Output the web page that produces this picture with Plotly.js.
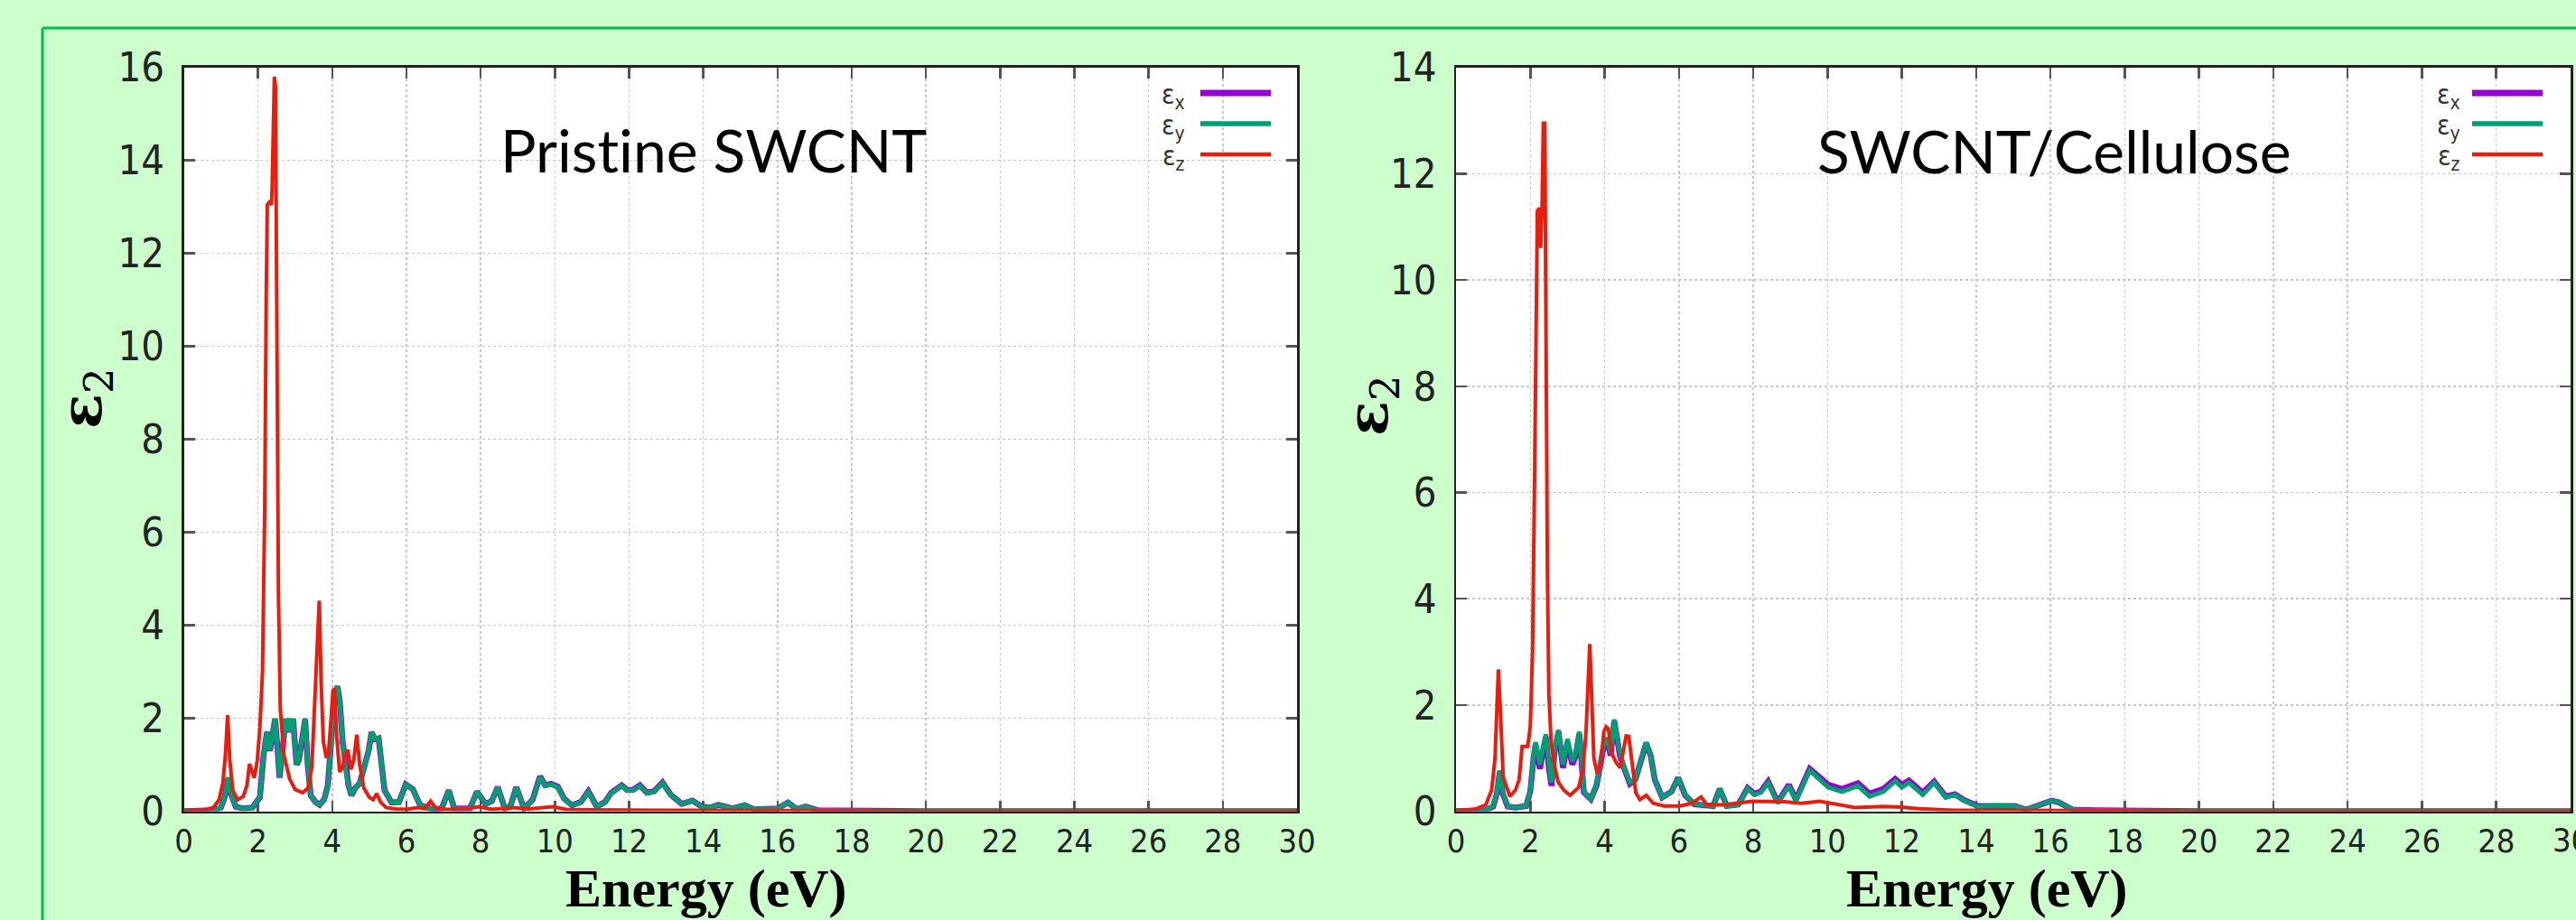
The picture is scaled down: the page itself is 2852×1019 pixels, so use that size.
<!DOCTYPE html>
<html>
<head>
<meta charset="utf-8">
<script src="https://cdn.plot.ly/plotly-3.0.1.min.js"></script>
<style>html,body{margin:0;padding:0;background:#ccffcc;}#chart{width:2852px;height:1019px;}</style>
</head>
<body>
<div id="chart"></div>
<script>
// ---------------- DATA ----------------
const panelTitles = ["Prist\u200Cine SWCNT", "SWCNT/Cellulose"];
const seriesNames = ["ε<sub>x</sub>", "ε<sub>y</sub>", "ε<sub>z</sub>"];
const xTickVals = [0,2,4,6,8,10,12,14,16,18,20,22,24,26,28,30];

// Pristine SWCNT: eps_x / eps_y (in-plane)
const pristineXYEnergy = [0,0.8,1.0,1.1,1.2,1.28,1.4,1.6,1.85,1.95,2.05,2.15,2.24,2.32,2.4,2.46,2.52,2.58,2.66,2.74,2.8,2.86,2.9,2.95,2.98,3.04,3.1,3.18,3.27,3.34,3.42,3.55,3.66,3.78,3.88,3.98,4.06,4.14,4.2,4.28,4.36,4.44,4.52,4.62,4.74,4.88,4.98,5.06,5.15,5.25,5.33,5.41,5.6,5.8,5.98,6.08,6.17,6.37,6.71,6.95,7.14,7.29,7.5,7.71,7.9,8.13,8.3,8.46,8.65,8.8,8.96,9.17,9.4,9.6,9.74,9.9,10.08,10.25,10.46,10.7,10.9,11.13,11.35,11.52,11.8,11.95,12.1,12.29,12.48,12.67,12.9,13.13,13.42,13.71,13.96,14.2,14.4,14.79,15.12,15.37,16.0,16.28,16.52,16.76,17.1,17.8,20,25,30];
const pristineEpsY = [0,0.02,0.08,0.3,0.73,0.35,0.1,0.06,0.08,0.2,0.3,1.2,1.72,1.32,1.8,2.0,1.4,0.73,1.3,2.0,1.72,2.0,1.72,2.0,1.6,1.0,1.1,1.6,2.0,1.0,0.34,0.2,0.14,0.25,0.55,1.6,2.5,2.7,2.4,1.5,0.9,0.55,0.34,0.5,0.6,1.0,1.3,1.71,1.55,1.58,1.0,0.45,0.19,0.2,0.58,0.52,0.48,0.13,0.04,0.06,0.45,0.06,0.05,0.06,0.42,0.16,0.22,0.52,0.06,0.1,0.52,0.06,0.25,0.74,0.55,0.58,0.52,0.26,0.13,0.2,0.42,0.1,0.2,0.39,0.55,0.45,0.45,0.55,0.39,0.42,0.61,0.35,0.16,0.23,0.1,0.08,0.14,0.06,0.13,0.04,0.06,0.19,0.05,0.1,0.02,0.01,0,0,0];
const pristineEpsX = [0,0.02,0.08,0.3,0.72,0.35,0.1,0.06,0.08,0.2,0.3,1.2,1.7,1.3,1.78,1.98,1.4,0.72,1.3,1.98,1.7,1.98,1.7,1.98,1.6,1.0,1.1,1.6,1.98,1.0,0.34,0.2,0.14,0.25,0.55,1.6,2.5,2.68,2.4,1.5,0.9,0.55,0.34,0.5,0.6,1.0,1.3,1.7,1.55,1.57,1.0,0.45,0.19,0.2,0.58,0.52,0.48,0.13,0.04,0.06,0.45,0.06,0.05,0.06,0.42,0.16,0.22,0.52,0.06,0.1,0.52,0.06,0.25,0.75,0.56,0.59,0.53,0.27,0.13,0.2,0.43,0.1,0.2,0.4,0.56,0.46,0.46,0.56,0.4,0.43,0.62,0.35,0.16,0.23,0.1,0.08,0.14,0.06,0.13,0.04,0.06,0.19,0.05,0.1,0.02,0.01,0,0,0];

// Pristine SWCNT: eps_z
const pristineZEnergy = [0,0.5,0.8,0.95,1.05,1.12,1.18,1.24,1.32,1.45,1.6,1.7,1.77,1.85,1.9,1.98,2.05,2.12,2.18,2.22,2.25,2.3,2.36,2.38,2.41,2.44,2.47,2.5,2.55,2.6,2.7,2.85,3.0,3.2,3.35,3.45,3.55,3.6,3.65,3.7,3.76,3.84,3.9,3.96,4.02,4.06,4.12,4.2,4.28,4.35,4.42,4.5,4.58,4.66,4.74,4.85,5.0,5.1,5.2,5.3,5.45,5.7,6.0,6.3,6.5,6.65,6.8,7.1,7.6,7.95,8.3,8.88,9.3,9.94,10.3,11,12,13,14,16,18,20,25,30];
const pristineEpsZ = [0,0.02,0.08,0.25,0.6,1.2,2.07,1.1,0.45,0.25,0.32,0.55,1.02,0.8,0.72,1.1,1.8,3.0,6.5,11.0,13.05,13.1,13.05,13.4,15.2,15.8,15.6,10.0,4.7,2.2,1.2,0.7,0.47,0.4,0.5,0.95,2.6,3.8,4.53,2.8,1.5,1.15,1.25,1.9,2.6,2.64,1.6,0.85,0.95,1.25,1.32,0.9,1.1,1.65,1.0,0.5,0.3,0.25,0.38,0.2,0.08,0.05,0.04,0.08,0.06,0.22,0.06,0.04,0.05,0.1,0.04,0.08,0.05,0.1,0.04,0.03,0.02,0.02,0.02,0.01,0.01,0,0,0];

// SWCNT/Cellulose: eps_x / eps_y
const celluloseXYEnergy = [0,0.8,1.0,1.1,1.18,1.26,1.39,1.6,1.89,2.0,2.08,2.14,2.2,2.26,2.34,2.42,2.5,2.57,2.66,2.76,2.88,3.0,3.13,3.22,3.32,3.38,3.44,3.63,3.78,3.88,3.96,4.06,4.16,4.26,4.34,4.41,4.53,4.68,4.83,4.98,5.12,5.24,5.35,5.55,5.8,5.98,6.17,6.42,6.92,7.1,7.29,7.6,7.85,8.03,8.2,8.4,8.66,8.96,9.15,9.52,9.77,10.02,10.39,10.82,11.13,11.5,11.82,12.0,12.19,12.56,12.87,13.18,13.43,13.68,14.05,14.49,15.04,15.35,16.03,16.22,16.6,17.2,20,25,30];
const celluloseEpsY = [0,0.02,0.1,0.35,0.77,0.35,0.09,0.07,0.1,0.4,1.0,1.3,1.1,0.88,1.2,1.45,0.9,0.54,1.2,1.53,0.88,1.36,0.94,1.1,1.5,1.0,0.37,0.23,0.5,0.88,1.2,1.39,1.1,1.73,1.4,1.1,0.82,0.54,0.6,1.0,1.3,1.05,0.6,0.26,0.37,0.63,0.31,0.14,0.1,0.43,0.1,0.12,0.43,0.31,0.35,0.54,0.15,0.48,0.2,0.77,0.6,0.45,0.37,0.48,0.28,0.37,0.57,0.45,0.54,0.31,0.54,0.26,0.31,0.2,0.09,0.11,0.1,0.03,0.2,0.17,0.03,0.02,0,0,0];
const celluloseEpsX = [0,0.02,0.09,0.33,0.74,0.33,0.09,0.07,0.1,0.38,0.95,1.25,1.02,0.8,1.12,1.4,0.82,0.48,1.15,1.5,0.82,1.3,0.88,1.04,1.46,0.95,0.36,0.23,0.48,0.85,1.16,1.36,1.05,1.7,1.36,1.05,0.8,0.52,0.6,1.0,1.28,1.05,0.6,0.26,0.37,0.63,0.3,0.13,0.1,0.42,0.1,0.13,0.44,0.33,0.37,0.56,0.17,0.5,0.22,0.8,0.65,0.5,0.42,0.53,0.33,0.42,0.61,0.5,0.58,0.35,0.56,0.28,0.32,0.21,0.1,0.11,0.1,0.03,0.2,0.17,0.03,0.02,0,0,0];

// SWCNT/Cellulose: eps_z
const celluloseZEnergy = [0,0.5,0.8,0.96,1.05,1.1,1.14,1.2,1.27,1.45,1.6,1.7,1.78,1.83,1.93,2.0,2.06,2.11,2.15,2.19,2.25,2.28,2.32,2.35,2.39,2.42,2.46,2.5,2.56,2.65,2.75,2.9,3.07,3.3,3.42,3.5,3.56,3.6,3.65,3.71,3.8,3.9,3.98,4.04,4.1,4.19,4.3,4.42,4.52,4.58,4.65,4.74,4.84,4.95,5.12,5.31,5.6,6.03,6.35,6.6,6.74,7.2,7.98,8.84,9.3,9.79,10.08,10.74,11.5,11.98,12.46,13.42,14.5,16,18,20,25,30];
const celluloseEpsZ = [0,0.04,0.12,0.4,1.0,1.8,2.67,1.8,0.65,0.28,0.4,0.6,1.22,1.22,1.22,1.6,3.0,6.0,9.5,11.3,11.35,10.6,11.5,12.95,12.95,9.0,4.5,2.2,1.3,0.87,0.55,0.4,0.3,0.45,0.8,1.5,2.6,3.15,2.2,1.0,0.71,0.9,1.5,1.59,1.55,1.1,0.93,0.82,1.2,1.42,1.41,0.9,0.35,0.22,0.3,0.15,0.1,0.1,0.15,0.27,0.13,0.12,0.19,0.18,0.15,0.19,0.15,0.07,0.09,0.08,0.05,0.02,0.02,0.01,0,0,0,0];

// ---------------- STYLE ----------------
const W = 2852, H = 1019;
const px = v => v / W;
const py = v => 1 - v / H;
const colors = ["#9400d3", "#009e73", "#e51e10"];
const widths = [6.5, 5, 4];
const tickFont = "DejaVu Sans Condensed, DejaVu Sans, sans-serif";
const xTickSize = 36;

const panels = [
  {xa: "x",  ya: "y",  e: [pristineXYEnergy, pristineXYEnergy, pristineZEnergy], v: [pristineEpsX, pristineEpsY, pristineEpsZ]},
  {xa: "x2", ya: "y2", e: [celluloseXYEnergy, celluloseXYEnergy, celluloseZEnergy], v: [celluloseEpsX, celluloseEpsY, celluloseEpsZ]}
];

const traces = [];
panels.forEach(p => {
  for (let i = 0; i < 3; i++) {
    traces.push({
      type: "scatter", mode: "lines", x: p.e[i], y: p.v[i], xaxis: p.xa, yaxis: p.ya,
      line: {color: colors[i], width: widths[i]}, name: seriesNames[i], showlegend: false, hoverinfo: "skip"
    });
  }
});

function xAxis(dom, anchor) {
  return {
    domain: dom, anchor: anchor, range: [0, 30], tickvals: xTickVals, ticktext: xTickVals.map(String),
    showline: true, linecolor: "#222", linewidth: 2.5, mirror: "ticks",
    ticks: "inside", ticklen: 12, tickwidth: 2.5, tickcolor: "#555",
    showgrid: true, gridcolor: "#c8c8c8", gridwidth: 1.5, griddash: "dot", zeroline: false,
    tickfont: {family: tickFont, size: xTickSize, color: "#222"}, ticklabelstandoff: 0,
    layer: "below traces", fixedrange: true
  };
}
function yAxis(dom, anchor, top) {
  const vals = []; for (let v = 0; v <= top; v += 2) vals.push(v);
  return {
    domain: dom, anchor: anchor, range: [0, top], tickvals: vals, ticktext: vals.map(String),
    showline: true, linecolor: "#222", linewidth: 2.5, mirror: "ticks",
    ticks: "inside", ticklen: 12, tickwidth: 2.5, tickcolor: "#555",
    showgrid: true, gridcolor: "#c8c8c8", gridwidth: 1.5, griddash: "dot", zeroline: false,
    tickfont: {family: tickFont, size: 45, color: "#222"}, ticklabelstandoff: 10,
    layer: "below traces", fixedrange: true
  };
}

const yDom = [py(898.6), py(74.7)];
const panelGeom = [
  {title: panelTitles[0], tx: 790, ty: 166, xt: 782, yt: {x: 94, y: 442}, legTextX: 1314, legLineX: [1329, 1407]},
  {title: panelTitles[1], tx: 2274, ty: 167, xt: 2200, yt: {x: 1518, y: 450}, legTextX: 2726, legLineX: [2737, 2815]}
];
const legendY = [103, 137, 171];

const annotations = [];
const shapes = [
  {type: "line", xref: "paper", yref: "paper", x0: px(47), x1: px(47), y0: py(31), y1: 0, line: {color: "#00bf4a", width: 3}},
  {type: "line", xref: "paper", yref: "paper", x0: px(47), x1: 1, y0: py(31), y1: py(31), line: {color: "#00bf4a", width: 3}}
];
panelGeom.forEach(g => {
  annotations.push({xref: "paper", yref: "paper", x: px(g.tx), y: py(g.ty), xanchor: "center", yanchor: "middle",
    text: g.title, showarrow: false, font: {family: "Lato, Open Sans, sans-serif", size: 66, color: "#000"}});
  annotations.push({xref: "paper", yref: "paper", x: px(g.xt), y: py(984), xanchor: "center", yanchor: "middle",
    text: "Energy (eV)", showarrow: false, font: {family: "Liberation Serif, serif", size: 60, color: "#000", weight: "bold"}});
  annotations.push({xref: "paper", yref: "paper", x: px(g.yt.x), y: py(g.yt.y), xanchor: "center", yanchor: "middle",
    text: "<b>ε</b><sub>2</sub>", textangle: -90, showarrow: false, font: {family: "DejaVu Serif, serif", size: 64, color: "#000"}});
  for (let i = 0; i < 3; i++) {
    annotations.push({xref: "paper", yref: "paper", x: px(g.legTextX), y: py(legendY[i] + 3), xanchor: "right", yanchor: "middle",
      text: seriesNames[i], showarrow: false, font: {family: tickFont, size: 30, color: "#333"}});
    shapes.push({type: "line", xref: "paper", yref: "paper", x0: px(g.legLineX[0]), x1: px(g.legLineX[1]),
      y0: py(legendY[i]), y1: py(legendY[i]), line: {color: colors[i], width: widths[i] + 0.5}});
  }
});
// last x tick label of the right panel, cut off by the page edge as in the reference
annotations.push({xref: "x2", yref: "paper", x: xTickVals[xTickVals.length - 1], y: py(930), xanchor: "center", yanchor: "middle",
  text: String(xTickVals[xTickVals.length - 1]), showarrow: false, font: {family: tickFont, size: xTickSize, color: "#222"}});

const layout = {
  width: W, height: H, margin: {l: 0, r: 0, t: 0, b: 0, pad: 0},
  paper_bgcolor: "#ccffcc", plot_bgcolor: "#ffffff", showlegend: false,
  xaxis: xAxis([px(203.5), px(1436)], "y"),
  yaxis: yAxis(yDom, "x", 16),
  xaxis2: xAxis([px(1612), px(2846)], "y2"),
  yaxis2: yAxis(yDom, "x2", 14),
  annotations: annotations, shapes: shapes
};

Plotly.newPlot("chart", traces, layout, {staticPlot: true, displayModeBar: false});
</script>
</body>
</html>
